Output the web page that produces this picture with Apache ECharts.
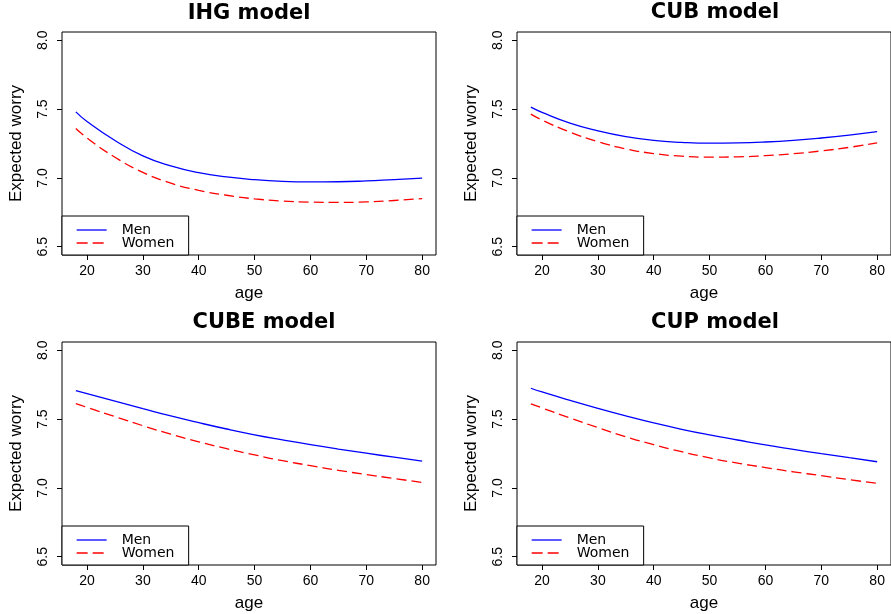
<!DOCTYPE html>
<html>
<head>
<meta charset="utf-8">
<script src="https://cdn.jsdelivr.net/npm/echarts@6/dist/echarts.min.js"></script>
<style>html,body{margin:0;padding:0;background:#fff}#c{width:891px;height:614px}</style>
</head>
<body>
<div id="c"></div>
<script>
// ---- data ----
const ages = [18, 20, 25, 30, 35, 40, 45, 50, 55, 60, 65, 70, 75, 80];
const panelTitles = ["IHG model", "CUB model", "CUBE model", "CUP model"];
const seriesNames = ["Men", "Women"];
const xTicks = [20, 30, 40, 50, 60, 70, 80];
const yTicks = [6.5, 7.0, 7.5, 8.0];

const ihgMen   = [7.480, 7.410, 7.272, 7.160, 7.087, 7.038, 7.007, 6.987, 6.975, 6.971, 6.972, 6.978, 6.988, 6.998];
const ihgWomen = [7.359, 7.290, 7.150, 7.040, 6.962, 6.910, 6.874, 6.848, 6.832, 6.824, 6.822, 6.826, 6.836, 6.850];
const cubMen   = [7.514, 7.476, 7.398, 7.342, 7.300, 7.272, 7.258, 7.252, 7.254, 7.261, 7.273, 7.290, 7.311, 7.336];
const cubWomen = [7.463, 7.420, 7.333, 7.263, 7.211, 7.177, 7.158, 7.151, 7.153, 7.162, 7.176, 7.196, 7.222, 7.254];
const cubeMen  = [7.707, 7.685, 7.630, 7.576, 7.523, 7.474, 7.428, 7.386, 7.349, 7.314, 7.282, 7.252, 7.223, 7.195];
const cubeWomen= [7.613, 7.585, 7.518, 7.452, 7.390, 7.335, 7.285, 7.240, 7.198, 7.162, 7.128, 7.097, 7.068, 7.040];
const cupMen   = [7.724, 7.697, 7.636, 7.578, 7.523, 7.472, 7.426, 7.385, 7.348, 7.312, 7.280, 7.249, 7.220, 7.190];
const cupWomen = [7.611, 7.581, 7.508, 7.438, 7.372, 7.314, 7.263, 7.218, 7.180, 7.148, 7.117, 7.089, 7.060, 7.033];

const panelData = [[ihgMen, ihgWomen], [cubMen, cubWomen], [cubeMen, cubeWomen], [cupMen, cupWomen]];

// ---- layout ----
const gridPos = [
  {left: 62, top: 32}, {left: 517, top: 32},
  {left: 62, top: 342}, {left: 517, top: 342}
];
const gridW = 374, gridH = 223;
const titlePos = [{x: 249, y: 3}, {x: 715, y: 2}, {x: 264, y: 312}, {x: 715, y: 312}];

const FONT = "Liberation Sans";
const colors = ["#0000FF", "#FF0000"];
const dashes = ["solid", [10, 5]];

const grids = [], xAxes = [], yAxes = [], series = [], titles = [], legends = [];
for (let i = 0; i < 4; i++) {
  grids.push({left: gridPos[i].left, top: gridPos[i].top, width: gridW, height: gridH,
    show: true, borderColor: "#000", borderWidth: 1, backgroundColor: "transparent", containLabel: false});
  xAxes.push({type: "value", gridIndex: i, min: 15.52, max: 82.48,
    axisLine: {show: false}, splitLine: {show: false},
    axisTick: {show: true, length: 5, customValues: xTicks, lineStyle: {color: "#000", width: 1}},
    axisLabel: {customValues: xTicks, margin: 9, fontSize: 14, color: "#000", fontFamily: FONT},
    name: "age", nameLocation: "middle", nameGap: 30,
    nameTextStyle: {fontSize: 17, color: "#000", fontFamily: FONT}});
  yAxes.push({type: "value", gridIndex: i, min: 6.44, max: 8.06,
    axisLine: {show: false}, splitLine: {show: false},
    axisTick: {show: true, length: 5, customValues: yTicks, lineStyle: {color: "#000", width: 1}},
    axisLabel: {customValues: yTicks, rotate: 90, margin: 12, fontSize: 14, color: "#000", fontFamily: FONT,
      formatter: v => Number(v).toFixed(1)},
    name: "Expected worry", nameLocation: "middle", nameGap: 37,
    nameTextStyle: {fontSize: 17, color: "#000", fontFamily: FONT}});
  for (let s = 0; s < 2; s++) {
    series.push({type: "line", name: seriesNames[s], xAxisIndex: i, yAxisIndex: i,
      data: ages.map((a, k) => [a, panelData[i][s][k]]),
      symbol: "none", smooth: 0.5, silent: true, animation: false,
      color: colors[s],
      lineStyle: {color: colors[s], width: 1.3, type: dashes[s]}});
  }
  titles.push({text: panelTitles[i], left: titlePos[i].x, top: titlePos[i].y, textAlign: "center", padding: 0,
    textStyle: {fontSize: 21, fontWeight: "bold", color: "#000", fontFamily: "DejaVu Sans"}});
  legends.push({left: gridPos[i].left, top: gridPos[i].top + gridH - 39, orient: "vertical",
    padding: [7, 13, 5, 14], itemWidth: 30, itemHeight: 12, itemGap: -1,
    borderColor: "#000", borderWidth: 1, borderRadius: 0, backgroundColor: "#fff", selectedMode: false,
    itemStyle: {opacity: 0},
    textStyle: {fontSize: 14, lineHeight: 12, color: "#000", fontFamily: "DejaVu Sans",
      width: 54, padding: [0, 0, 0, 10]},
    data: [{name: seriesNames[0], lineStyle: {type: "solid", width: 1.3, color: colors[0]}},
           {name: seriesNames[1], lineStyle: {type: [11, 5], width: 1.3, color: colors[1]}}]});
}

const chart = echarts.init(document.getElementById("c"), null, {renderer: "canvas"});
chart.setOption({
  animation: false,
  backgroundColor: "#fff",
  title: titles,
  legend: legends,
  grid: grids,
  xAxis: xAxes,
  yAxis: yAxes,
  series: series
});
</script>
</body>
</html>
